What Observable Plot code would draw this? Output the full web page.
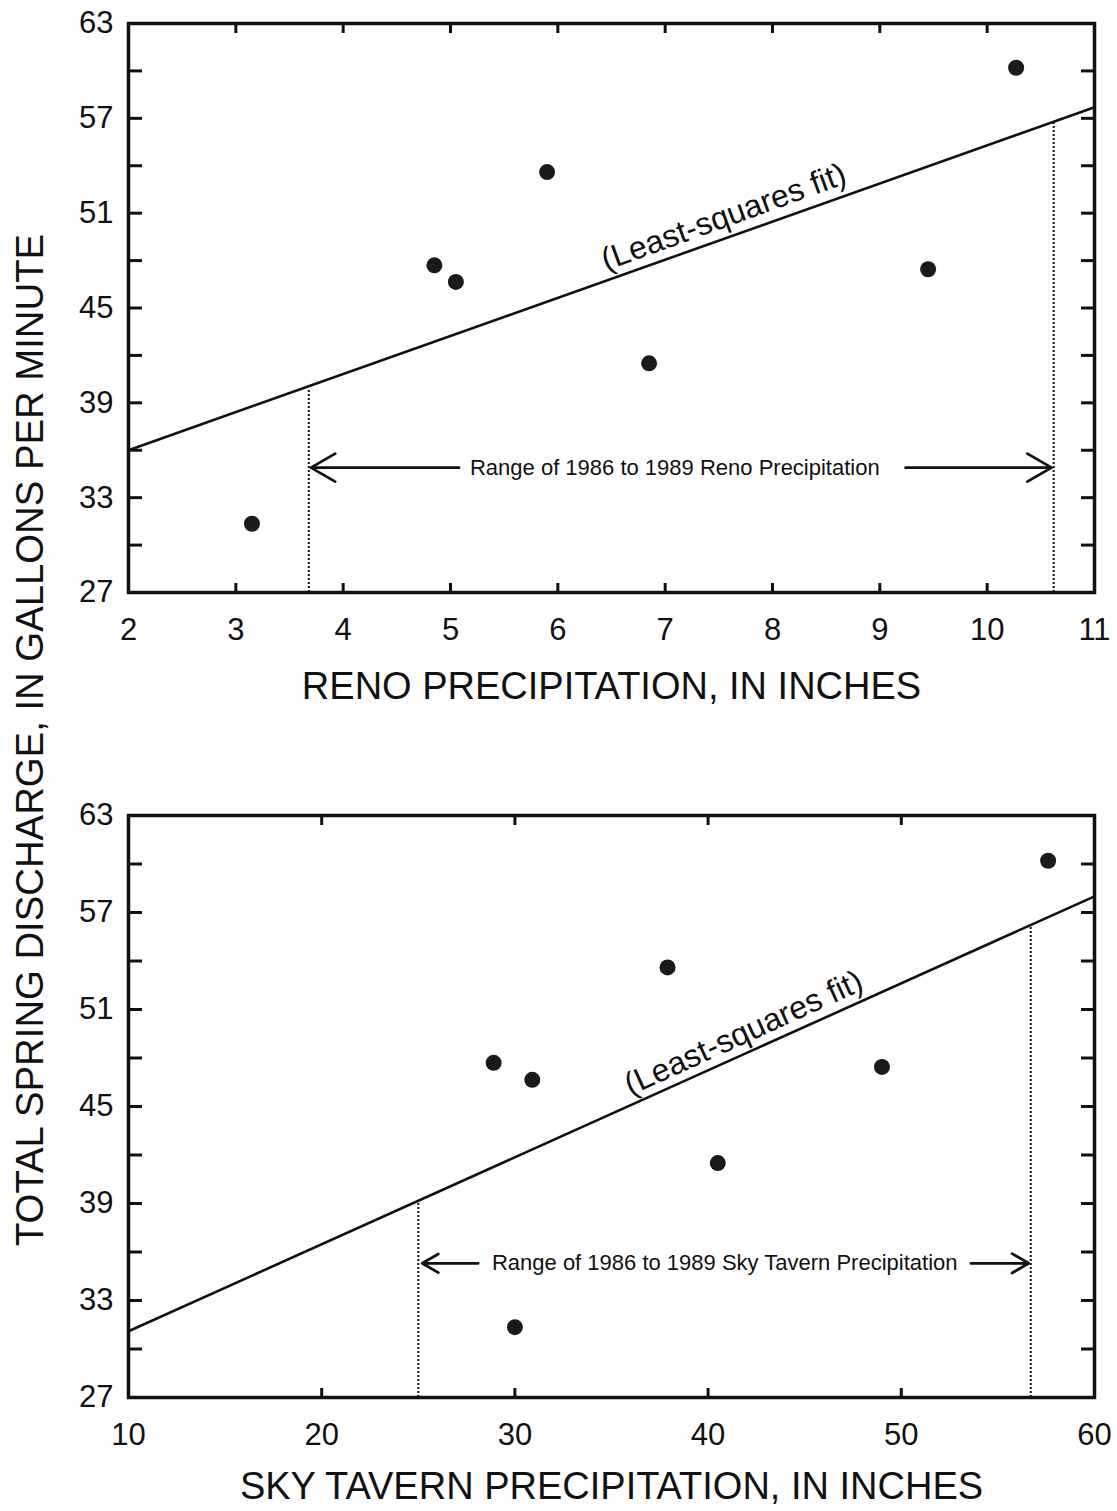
<!DOCTYPE html>
<html><head><meta charset="utf-8">
<script src="https://cdn.jsdelivr.net/npm/d3@7"></script>
<script src="https://cdn.jsdelivr.net/npm/@observablehq/plot@0.6"></script>
<style>
body{margin:0;background:#fff;}
#wrap{position:relative;width:1117px;height:1511px;font-family:"Liberation Sans",Arial,sans-serif;color:#111;}
#ylab{position:absolute;left:30px;top:740px;transform:translate(-50%,-50%) rotate(-90deg);font-size:38.3px;white-space:nowrap;line-height:1;}
svg{display:block}
</style></head><body>
<div id="wrap"><div id="top"></div><div id="bottom"></div><div id="ylab">TOTAL SPRING DISCHARGE, IN GALLONS PER MINUTE</div></div>
<script>
// ---- data ----
const discharge   = [31.35, 47.7, 46.65, 53.6, 41.5, 47.45, 60.2];   // gallons per minute
const renoPrecip  = [3.15, 4.85, 5.05, 5.9, 6.85, 9.45, 10.27];      // inches
const skyPrecip   = [30.0, 28.9, 30.9, 37.9, 40.5, 49.0, 57.6];      // inches

const yDomain = [27, 63];
const yMajorTicks = [27, 33, 39, 45, 51, 57, 63];
const yMinorTicks = [27, 30, 33, 36, 39, 42, 45, 48, 51, 54, 57, 60, 63];

const renoDomain = [2, 11];
const renoTicks = [2, 3, 4, 5, 6, 7, 8, 9, 10, 11];
const renoFit = [{x: 2, y: 36.0}, {x: 11, y: 57.7}];
const renoRange = [{x: 3.68, top: 39.9}, {x: 10.62, top: 56.8}];
const renoArrows = [{x1: 5.08, x2: 3.70, y: 34.9}, {x1: 9.24, x2: 10.60, y: 34.9}];
const renoRangeLabel = {x: 7.09, y: 34.9, text: "Range of 1986 to 1989 Reno Precipitation"};
const renoFitLabel = {x: 7.545, y: 50.75, text: "(Least-squares fit)"};

const skyDomain = [10, 60];
const skyLabelTicks = [10, 20, 30, 40, 50, 60];
const skyTicks = [20, 30, 40, 50];
const skyFit = [{x: 10, y: 31.1}, {x: 60, y: 58.0}];
const skyRange = [{x: 25.0, top: 39.2}, {x: 56.7, top: 56.1}];
const skyArrows = [{x1: 28.1, x2: 25.2, y: 35.3}, {x1: 53.6, x2: 56.6, y: 35.3}];
const skyRangeLabel = {x: 40.86, y: 35.3, text: "Range of 1986 to 1989 Sky Tavern Precipitation"};
const skyFitLabel = {x: 41.84, y: 49.55, text: "(Least-squares fit)"};

const FONT = '"Liberation Sans", Arial, sans-serif';

function panel(o) {
  const pts = o.px.map((x, i) => ({x, y: discharge[i]}));
  return Plot.plot({
    width: 1117,
    height: o.height,
    marginLeft: 128,
    marginRight: 23,
    marginTop: o.marginTop,
    marginBottom: o.marginBottom,
    style: {fontFamily: FONT, color: "#111", background: "#fff", overflow: "visible"},
    x: {domain: o.xDomain},
    y: {domain: yDomain},
    marks: [
      // inward ticks on all four sides
      Plot.axisX(o.xTicks, {anchor: "bottom", tickSize: -o.xTickLen, strokeWidth: 3, text: null, label: null}),
      Plot.axisX(o.xTicks, {anchor: "top", tickSize: -o.xTickLen, strokeWidth: 3, text: null, label: null}),
      Plot.axisX(o.xLabelTicks, {anchor: "bottom", tickSize: 0, tickPadding: 25, fontSize: 31, label: null}),
      Plot.axisY(yMinorTicks, {anchor: "left", tickSize: -14, strokeWidth: 3, text: null, label: null}),
      Plot.axisY(yMinorTicks, {anchor: "right", tickSize: -14, strokeWidth: 3, text: null, label: null}),
      Plot.axisY(yMajorTicks, {anchor: "left", tickSize: 0, tickPadding: 15, fontSize: 31, label: null}),
      Plot.frame({strokeWidth: 3.5, stroke: "#111"}),
      Plot.line(o.fit, {x: "x", y: "y", stroke: "#111", strokeWidth: 2.6}),
      Plot.ruleX(o.range, {x: "x", y1: yDomain[0], y2: "top", stroke: "#111", strokeWidth: 2, strokeDasharray: "2,2"}),
      Plot.arrow(o.arrows, {x1: "x1", x2: "x2", y1: "y", y2: "y", stroke: "#111", strokeWidth: 2.8, headLength: 15, headAngle: 60}),
      Plot.text([o.rangeLabel], {x: "x", y: "y", text: "text", fontSize: 22, fill: "#111"}),
      Plot.text([o.fitLabel], {x: "x", y: "y", text: "text", fontSize: 32, rotate: o.fitRotate, fill: "#111"}),
      Plot.dot(pts, {x: "x", y: "y", r: 8, fill: "#1a1a1a", stroke: "none"}),
      Plot.text([o.title], {frameAnchor: "bottom", dy: o.titleDy, fontSize: 38, fill: "#111"})
    ]
  });
}

document.getElementById("top").append(panel({
  height: 720, marginTop: 23, marginBottom: 128,
  xDomain: renoDomain, xTicks: renoTicks, xLabelTicks: renoTicks, xTickLen: 9,
  px: renoPrecip, fit: renoFit, range: renoRange, arrows: renoArrows,
  rangeLabel: renoRangeLabel, fitLabel: renoFitLabel, fitRotate: -20,
  title: "RENO PRECIPITATION, IN INCHES", titleDy: 106
}));
document.getElementById("bottom").append(panel({
  height: 791, marginTop: 95, marginBottom: 114,
  xDomain: skyDomain, xTicks: skyTicks, xLabelTicks: skyLabelTicks, xTickLen: 9,
  px: skyPrecip, fit: skyFit, range: skyRange, arrows: skyArrows,
  rangeLabel: skyRangeLabel, fitLabel: skyFitLabel, fitRotate: -24.5,
  title: "SKY TAVERN PRECIPITATION, IN INCHES", titleDy: 101
}));
</script>
</body></html>
